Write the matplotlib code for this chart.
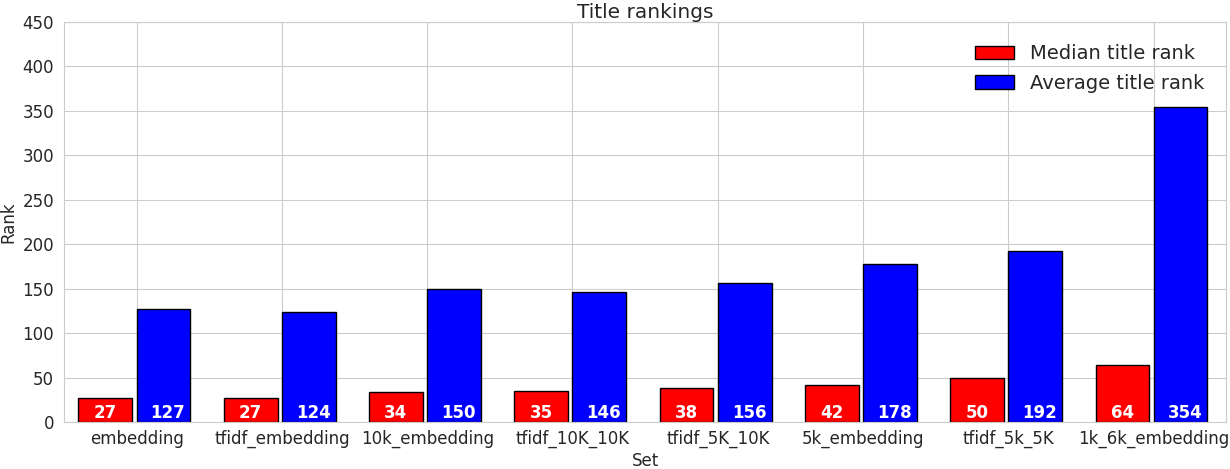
import matplotlib
matplotlib.use("Agg")
import matplotlib.pyplot as plt
import numpy as np
import seaborn as sns

sets = ["embedding", "tfidf_embedding", "10k_embedding", "tfidf_10K_10K",
        "tfidf_5K_10K", "5k_embedding", "tfidf_5k_5K", "1k_6k_embedding"]
median_rank = [27, 27, 34, 35, 38, 42, 50, 64]
average_rank = [127, 124, 150, 146, 156, 178, 192, 354]

sns.set_style("whitegrid")
plt.rcParams["font.family"] = ["DejaVu Sans"]

ind = np.arange(len(sets))
width = 0.37

fig, ax = plt.subplots(figsize=(12.3, 4.69), dpi=100)
r1 = ax.bar(ind, median_rank, width, align="edge", color="red",
            edgecolor="black", linewidth=1.0, label="Median title rank")
r2 = ax.bar(ind + 0.4, average_rank, width, align="edge", color="blue",
            edgecolor="black", linewidth=1.0, label="Average title rank")

# white value labels at the foot of each bar
for rects, shift in ((r1, 0.0), (r2, 0.03)):
    for rect in rects:
        h = rect.get_height()
        ax.text(rect.get_x() + rect.get_width() / 2 + shift, 0.5, "%d" % h,
                ha="center", va="bottom", color="white",
                fontsize=12, fontweight="bold")

ax.set_xticks(ind + 0.4)
ax.set_xticklabels(sets, fontsize=12)
ax.set_xlim(-0.1, 7.9)
ax.set_ylim(0, 450)
ax.set_yticks(np.arange(0, 451, 50))
ax.tick_params(axis="y", labelsize=12)
ax.tick_params(axis="x", pad=2)
ax.set_xlabel("Set", fontsize=12, labelpad=3)
ax.set_ylabel("Rank", fontsize=12)
ax.set_title("Title rankings", fontsize=14.5, pad=3)
ax.legend(loc="upper right", fontsize=14, frameon=False,
          handlelength=2.0, borderaxespad=0.75, labelspacing=0.55)

fig.subplots_adjust(left=0.052, right=0.997, top=0.953, bottom=0.1)
fig.savefig("out.png", dpi=100)
